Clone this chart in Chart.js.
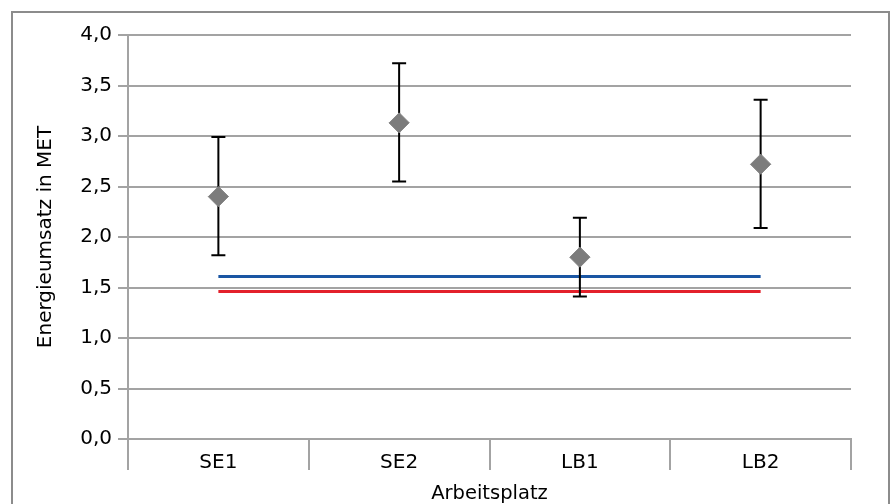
<!DOCTYPE html>
<html>
<head>
<meta charset="utf-8">
<script src="https://cdn.jsdelivr.net/npm/chart.js@4"></script>
<style>
  body { margin: 0; background: #fff; }
  #frame {
    position: absolute; left: 11px; top: 11px; width: 875px; height: 500px;
    border: 2px solid #8c8c8c; border-bottom: none;
  }
  #wrap { position: absolute; left: 0; top: 0; width: 890px; height: 504px; }
</style>
</head>
<body>
<div id="frame"></div>
<div id="wrap"><canvas id="chart" width="890" height="504"></canvas></div>
<script>
// Energieumsatz je Arbeitsplatz (Mittelwert +/- Streuung)
const categories = ['SE1', 'SE2', 'LB1', 'LB2'];
const means = [2.40, 3.13, 1.80, 2.72];
const upper = [2.99, 3.72, 2.19, 3.36];
const lower = [1.82, 2.55, 1.41, 2.09];
const blueLine = [1.61, 1.61, 1.61, 1.61];
const redLine = [1.46, 1.46, 1.46, 1.46];
const yTicks = [0, 0.5, 1, 1.5, 2, 2.5, 3, 3.5, 4];

const fontFamily = '"DejaVu Sans", sans-serif';
const gridColor = '#a3a3a3';

// error bars drawn through the chart's own scales
const errorBars = {
  id: 'errorBars',
  afterDatasetsDraw(chart) {
    const {ctx, scales: {x, y}} = chart;
    ctx.save();
    ctx.strokeStyle = '#000';
    ctx.lineWidth = 2;
    categories.forEach((cat, i) => {
      const px = x.getPixelForValue(i);
      const top = y.getPixelForValue(upper[i]);
      const bot = y.getPixelForValue(lower[i]);
      ctx.beginPath();
      ctx.moveTo(px, top);
      ctx.lineTo(px, bot);
      ctx.moveTo(px - 7, top);
      ctx.lineTo(px + 7, top);
      ctx.moveTo(px - 7, bot);
      ctx.lineTo(px + 7, bot);
      ctx.stroke();
    });
    // diamonds on top of the bars
    const meta = chart.getDatasetMeta(0);
    meta.data.forEach(pt => pt.draw(ctx, chart.chartArea));
    ctx.restore();
  }
};

new Chart(document.getElementById('chart'), {
  type: 'line',
  data: {
    labels: categories,
    datasets: [
      {
        label: 'Mittelwert',
        data: means,
        showLine: false,
        pointStyle: 'rectRot',
        pointRadius: 10,
        pointHoverRadius: 10,
        backgroundColor: '#7c7c7c',
        borderColor: '#8a8a8a',
        borderWidth: 1,
        order: 0
      },
      {
        label: 'Blau',
        data: blueLine,
        borderColor: '#1a56a3',
        borderWidth: 3,
        pointRadius: 0,
        order: 1
      },
      {
        label: 'Rot',
        data: redLine,
        borderColor: '#e3202b',
        borderWidth: 3,
        pointRadius: 0,
        order: 2
      }
    ]
  },
  options: {
    responsive: false,
    animation: false,
    layout: {padding: {left: 24, right: 39, top: 35, bottom: 0}},
    plugins: {legend: {display: false}, tooltip: {enabled: false}},
    scales: {
      x: {
        type: 'category',
        offset: true,
        grid: {
          offset: true,
          drawOnChartArea: false,
          drawTicks: true,
          tickLength: 31,
          color: gridColor,
          lineWidth: 2
        },
        border: {color: gridColor, width: 2},
        ticks: {
          padding: -19,
          color: '#000',
          font: {family: fontFamily, size: 20}
        },
        title: {
          display: true,
          text: 'Arbeitsplatz',
          color: '#000',
          padding: {top: 0, bottom: 0},
          font: {family: fontFamily, size: 19.5, lineHeight: 1}
        },
        afterFit(scale) { scale.height = 65; }
      },
      y: {
        min: 0,
        max: 4,
        afterBuildTicks(scale) { scale.ticks = yTicks.map(v => ({value: v})); },
        grid: {
          color: gridColor,
          lineWidth: 2,
          tickLength: 10
        },
        border: {color: gridColor, width: 2},
        ticks: {
          padding: 6,
          color: '#000',
          font: {family: fontFamily, size: 20},
          callback: v => v.toFixed(1).replace('.', ',')
        },
        title: {
          display: true,
          text: 'Energieumsatz in MET',
          color: '#000',
          padding: {top: 12, bottom: 0},
          font: {family: fontFamily, size: 20, lineHeight: 1}
        },
        afterFit(scale) { scale.width = 104; }
      }
    }
  },
  plugins: [errorBars]
});
</script>
</body>
</html>
